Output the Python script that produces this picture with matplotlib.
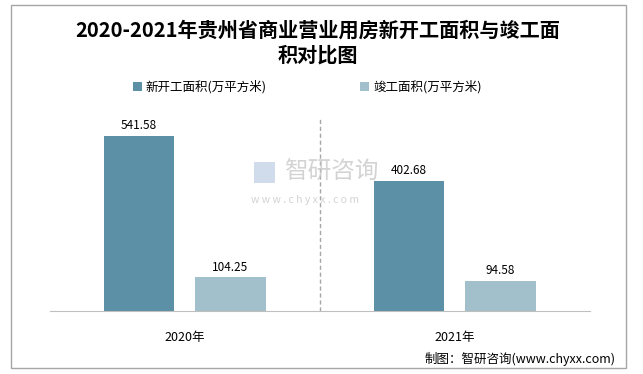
import matplotlib
matplotlib.use('Agg')
import matplotlib.pyplot as plt
from matplotlib.patches import Rectangle
import numpy as np

plt.rcParams['font.family'] = ['Noto Sans CJK SC', 'DejaVu Sans']

# 데이터
years = ['2020年', '2021年']
new_start = [541.58, 402.68]
completed = [104.25, 94.58]
series_names = ['新开工面积(万平方米)', '竣工面积(万平方米)']
colors = ['#5B90A6', '#A1C0CC']

fig = plt.figure(figsize=(6.43, 3.74), dpi=100)
ax = fig.add_axes([0.077, 0.168, 0.840, 0.519])

x = np.arange(len(years))
w = 0.26
off = 0.17
b1 = ax.bar(x - off, new_start, w, color=colors[0], label=series_names[0])
b2 = ax.bar(x + off, completed, w, color=colors[1], label=series_names[1])

for bars in (b1, b2):
    for b in bars:
        ax.text(b.get_x() + b.get_width() / 2, b.get_height() + 12,
                '%.2f' % b.get_height(), ha='center', va='bottom', fontsize=8.5)

ax.set_xlim(-0.5, len(years) - 0.5)
ax.set_ylim(0, 600)
ax.axvline(0.5, color='#A6A6A6', linestyle=(0, (3, 2)), linewidth=1)

ax.set_xticks(x)
ax.set_xticklabels(years, fontsize=9)
ax.tick_params(axis='x', length=0, pad=14)
ax.set_yticks([])
for s in ['top', 'left', 'right']:
    ax.spines[s].set_visible(False)
ax.spines['bottom'].set_color('#BFBFBF')

# 제목
fig.text(0.494, 0.886, '2020-2021年贵州省商业营业用房新开工面积与竣工面\n积对比图',
         ha='center', va='center', fontsize=14.5, fontweight='bold', linespacing=1.25)

fig.legend(handles=[b1, b2], loc='center', bbox_to_anchor=(0.478, 0.767),
           ncol=2, frameon=False, fontsize=9, handlelength=0.7, handleheight=0.7,
           handletextpad=0.3, columnspacing=7.5)

# 워터마크
fig.text(0.515, 0.54, '智研咨询', ha='center', va='center', fontsize=17,
         color='#C8C8C8', alpha=0.8)
fig.text(0.475, 0.466, 'w w w . c h y x x . c o m', ha='center', va='center',
         fontsize=7.5, color='#C8C8C8', alpha=0.8)
fig.patches.append(Rectangle((0.395, 0.51), 0.032, 0.058, transform=fig.transFigure,
                             facecolor='#C5D3E6', edgecolor='none', alpha=0.8))

fig.text(0.957, 0.04, '制图：智研咨询(www.chyxx.com)', ha='right', va='center', fontsize=9)

fig.patches.append(Rectangle((0.017, 0.016), 0.957, 0.97, transform=fig.transFigure,
                             fill=False, edgecolor='#A6A6A6', linewidth=1))

fig.savefig('out.png', dpi=100)
